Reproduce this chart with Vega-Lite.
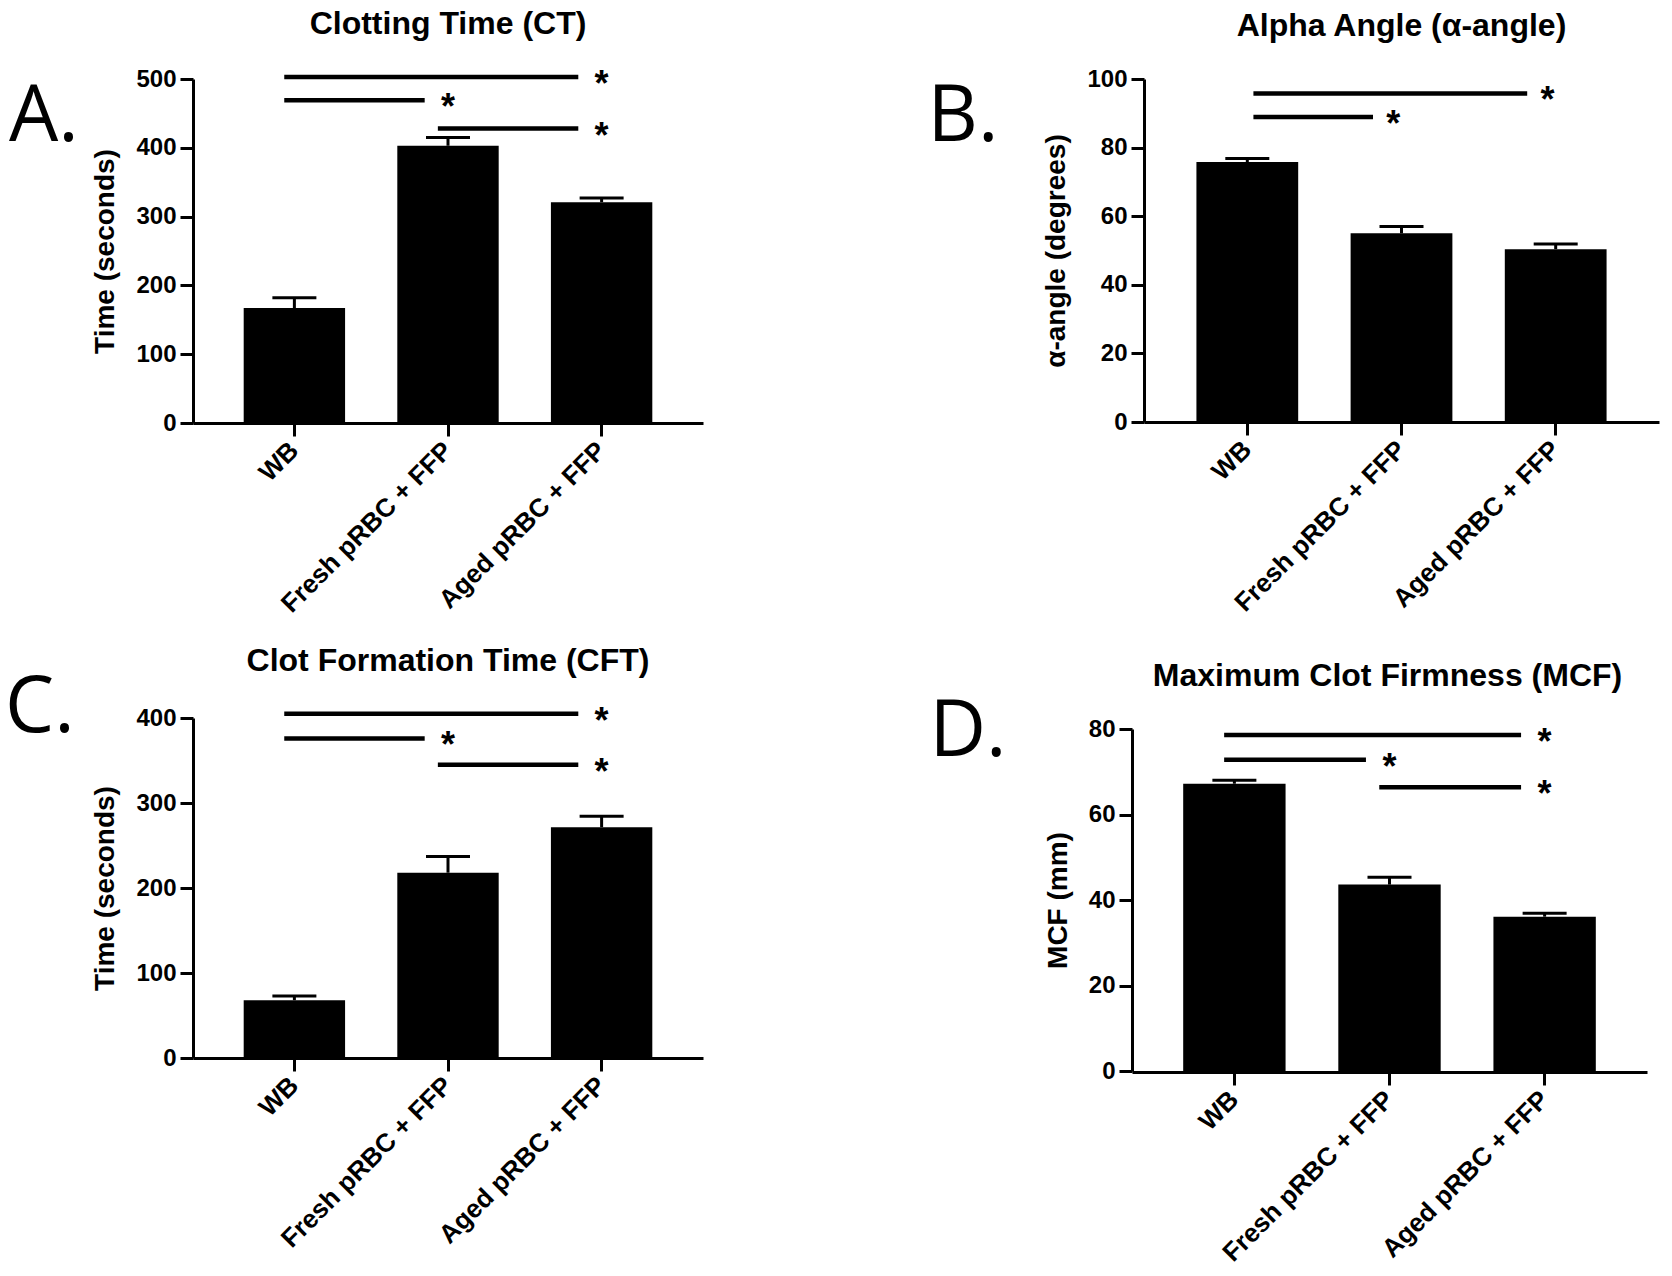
{
  "$schema": "https://vega.github.io/schema/vega-lite/v6.json",
  "autosize": {"type": "none"},
  "padding": {"left": 5, "top": 79, "right": 1667, "bottom": 1197},
  "background": "white",
  "config": {
    "view": {"stroke": null},
    "font": "Liberation Sans",
    "axis": {
      "grid": false,
      "domainColor": "black", "domainWidth": 3,
      "tickColor": "black", "tickWidth": 3, "tickSize": 13,
      "labelFont": "Liberation Sans", "labelFontWeight": "bold", "labelFontSize": 24, "labelColor": "black",
      "titleFont": "Liberation Sans", "titleFontWeight": "bold", "titleFontSize": 28, "titleColor": "black"
    },
    "axisY": {"labelPadding": 4, "titlePadding": 16},
    "axisX": {"labelAngle": -45, "labelAlign": "right", "labelBaseline": "middle", "labelFontSize": 26, "labelPadding": 10, "labelLimit": 500},
    "title": {"font": "Liberation Sans", "fontSize": 32, "fontWeight": "bold", "color": "black", "frame": "group", "baseline": "alphabetic"}
  },
  "datasets": {
    "bars": [
      {"panel": "A", "group": "WB", "value": 167, "err": 182},
      {"panel": "A", "group": "Fresh pRBC + FFP", "value": 403, "err": 415},
      {"panel": "A", "group": "Aged pRBC + FFP", "value": 321, "err": 327},
      {"panel": "B", "group": "WB", "value": 75.8, "err": 76.8},
      {"panel": "B", "group": "Fresh pRBC + FFP", "value": 55, "err": 57},
      {"panel": "B", "group": "Aged pRBC + FFP", "value": 50.4, "err": 51.9},
      {"panel": "C", "group": "WB", "value": 68, "err": 73},
      {"panel": "C", "group": "Fresh pRBC + FFP", "value": 218, "err": 237},
      {"panel": "C", "group": "Aged pRBC + FFP", "value": 271.5, "err": 284.5},
      {"panel": "D", "group": "WB", "value": 67.2, "err": 68},
      {"panel": "D", "group": "Fresh pRBC + FFP", "value": 43.6, "err": 45.3},
      {"panel": "D", "group": "Aged pRBC + FFP", "value": 36.1, "err": 36.9}
    ],
    "sig": [
      {"panel": "A", "from": "WB", "to": "Aged pRBC + FFP", "y": 503, "sym": "*"},
      {"panel": "A", "from": "WB", "to": "Fresh pRBC + FFP", "y": 469, "sym": "*"},
      {"panel": "A", "from": "Fresh pRBC + FFP", "to": "Aged pRBC + FFP", "y": 428, "sym": "*"},
      {"panel": "B", "from": "WB", "to": "Aged pRBC + FFP", "y": 95.8, "sym": "*"},
      {"panel": "B", "from": "WB", "to": "Fresh pRBC + FFP", "y": 88.9, "sym": "*"},
      {"panel": "C", "from": "WB", "to": "Aged pRBC + FFP", "y": 405, "sym": "*"},
      {"panel": "C", "from": "WB", "to": "Fresh pRBC + FFP", "y": 376, "sym": "*"},
      {"panel": "C", "from": "Fresh pRBC + FFP", "to": "Aged pRBC + FFP", "y": 345, "sym": "*"},
      {"panel": "D", "from": "WB", "to": "Aged pRBC + FFP", "y": 78.6, "sym": "*"},
      {"panel": "D", "from": "WB", "to": "Fresh pRBC + FFP", "y": 72.8, "sym": "*"},
      {"panel": "D", "from": "Fresh pRBC + FFP", "to": "Aged pRBC + FFP", "y": 66.4, "sym": "*"}
    ],
    "letters": [
      {"panel": "A", "label": "A."},
      {"panel": "B", "label": "B."},
      {"panel": "C", "label": "C."},
      {"panel": "D", "label": "D."}
    ]
  },
  "columns": 4,
  "bounds": "flush",
  "align": {"row": "all", "column": "none"},
  "spacing": {"row": 297, "column": 180},
  "concat": [
    {
      "width": 8, "height": 10,
      "data": {"name": "letters"},
      "transform": [{"filter": "datum.panel == 'A'"}],
      "mark": {"type": "text", "align": "left", "baseline": "alphabetic", "font": "Open Sans", "fontSize": 78, "color": "black", "dy": 57, "dx": 0},
      "encoding": {"text": {"field": "label", "type": "nominal"}}
    },
    {
      "width": 510, "height": 344,
      "title": {"text": "Clotting Time (CT)", "offset": 26},
      "layer": [
        {
          "data": {"name": "bars"},
          "transform": [{"filter": "datum.panel == 'A'"}],
          "mark": {"type": "bar", "color": "black"},
          "encoding": {
            "x": {"field": "group", "type": "nominal", "scale": {"domain": ["WB", "Fresh pRBC + FFP", "Aged pRBC + FFP"], "paddingInner": 0.34, "paddingOuter": 0.33}, "axis": {"title": null}},
            "y": {"field": "value", "type": "quantitative", "scale": {"domain": [0, 500], "nice": false}, "axis": {"values": [0, 100, 200, 300, 400, 500], "title": "Time (seconds)"}}
          }
        },
        {
          "data": {"name": "bars"},
          "transform": [{"filter": "datum.panel == 'A'"}],
          "mark": {"type": "rule", "color": "black", "strokeWidth": 3},
          "encoding": {
            "x": {"field": "group", "type": "nominal"},
            "y": {"field": "value", "type": "quantitative"},
            "y2": {"field": "err"}
          }
        },
        {
          "data": {"name": "bars"},
          "transform": [{"filter": "datum.panel == 'A'"}],
          "mark": {"type": "tick", "color": "black", "size": 44, "thickness": 3, "opacity": 1},
          "encoding": {
            "x": {"field": "group", "type": "nominal"},
            "y": {"field": "err", "type": "quantitative"}
          }
        },
        {
          "data": {"name": "sig"},
          "transform": [{"filter": "datum.panel == 'A'"}],
          "mark": {"type": "rule", "color": "black", "strokeWidth": 4.5},
          "encoding": {
            "x": {"field": "from", "type": "nominal", "bandPosition": 0.4},
            "x2": {"field": "to", "bandPosition": 0.27},
            "y": {"field": "y", "type": "quantitative"}
          }
        },
        {
          "data": {"name": "sig"},
          "transform": [{"filter": "datum.panel == 'A'"}],
          "mark": {"type": "text", "font": "Liberation Sans", "fontWeight": "bold", "fontSize": 36, "baseline": "alphabetic", "dy": 19, "color": "black"},
          "encoding": {
            "x": {"field": "to", "type": "nominal"},
            "y": {"field": "y", "type": "quantitative"},
            "text": {"field": "sym", "type": "nominal"}
          }
        }
      ]
    },
    {
      "width": 81, "height": 10,
      "data": {"name": "letters"},
      "transform": [{"filter": "datum.panel == 'B'"}],
      "mark": {"type": "text", "align": "left", "baseline": "alphabetic", "font": "Open Sans", "fontSize": 78, "color": "black", "dy": 57, "dx": 4},
      "encoding": {"text": {"field": "label", "type": "nominal"}}
    },
    {
      "width": 515, "height": 343,
      "title": {"text": "Alpha  Angle (α-angle)", "offset": 24},
      "layer": [
        {
          "data": {"name": "bars"},
          "transform": [{"filter": "datum.panel == 'B'"}],
          "mark": {"type": "bar", "color": "black"},
          "encoding": {
            "x": {"field": "group", "type": "nominal", "scale": {"domain": ["WB", "Fresh pRBC + FFP", "Aged pRBC + FFP"], "paddingInner": 0.34, "paddingOuter": 0.34}, "axis": {"title": null}},
            "y": {"field": "value", "type": "quantitative", "scale": {"domain": [0, 100], "nice": false}, "axis": {"values": [0, 20, 40, 60, 80, 100], "title": "α-angle (degrees)"}}
          }
        },
        {
          "data": {"name": "bars"},
          "transform": [{"filter": "datum.panel == 'B'"}],
          "mark": {"type": "rule", "color": "black", "strokeWidth": 3},
          "encoding": {
            "x": {"field": "group", "type": "nominal"},
            "y": {"field": "value", "type": "quantitative"},
            "y2": {"field": "err"}
          }
        },
        {
          "data": {"name": "bars"},
          "transform": [{"filter": "datum.panel == 'B'"}],
          "mark": {"type": "tick", "color": "black", "size": 44, "thickness": 3, "opacity": 1},
          "encoding": {
            "x": {"field": "group", "type": "nominal"},
            "y": {"field": "err", "type": "quantitative"}
          }
        },
        {
          "data": {"name": "sig"},
          "transform": [{"filter": "datum.panel == 'B'"}],
          "mark": {"type": "rule", "color": "black", "strokeWidth": 4.5},
          "encoding": {
            "x": {"field": "from", "type": "nominal", "bandPosition": 0.56},
            "x2": {"field": "to", "bandPosition": 0.22},
            "y": {"field": "y", "type": "quantitative"}
          }
        },
        {
          "data": {"name": "sig"},
          "transform": [{"filter": "datum.panel == 'B'"}],
          "mark": {"type": "text", "font": "Liberation Sans", "fontWeight": "bold", "fontSize": 36, "baseline": "alphabetic", "dy": 19, "color": "black"},
          "encoding": {
            "x": {"field": "to", "type": "nominal", "bandPosition": 0.42},
            "y": {"field": "y", "type": "quantitative"},
            "text": {"field": "sym", "type": "nominal"}
          }
        }
      ]
    },
    {
      "width": 8, "height": 10,
      "data": {"name": "letters"},
      "transform": [{"filter": "datum.panel == 'C'"}],
      "mark": {"type": "text", "align": "left", "baseline": "alphabetic", "font": "Open Sans", "fontSize": 78, "color": "black", "dy": 3, "dx": -4},
      "encoding": {"text": {"field": "label", "type": "nominal"}}
    },
    {
      "width": 510, "height": 334,
      "title": {"text": "Clot Formation Time (CFT)", "offset": 26},
      "layer": [
        {
          "data": {"name": "bars"},
          "transform": [{"filter": "datum.panel == 'C'"}],
          "mark": {"type": "bar", "color": "black"},
          "encoding": {
            "x": {"field": "group", "type": "nominal", "scale": {"domain": ["WB", "Fresh pRBC + FFP", "Aged pRBC + FFP"], "paddingInner": 0.34, "paddingOuter": 0.33}, "axis": {"title": null}},
            "y": {"field": "value", "type": "quantitative", "scale": {"domain": [0, 400], "nice": false, "range": [334, -6]}, "axis": {"values": [0, 100, 200, 300, 400], "title": "Time (seconds)"}}
          }
        },
        {
          "data": {"name": "bars"},
          "transform": [{"filter": "datum.panel == 'C'"}],
          "mark": {"type": "rule", "color": "black", "strokeWidth": 3},
          "encoding": {
            "x": {"field": "group", "type": "nominal"},
            "y": {"field": "value", "type": "quantitative"},
            "y2": {"field": "err"}
          }
        },
        {
          "data": {"name": "bars"},
          "transform": [{"filter": "datum.panel == 'C'"}],
          "mark": {"type": "tick", "color": "black", "size": 44, "thickness": 3, "opacity": 1},
          "encoding": {
            "x": {"field": "group", "type": "nominal"},
            "y": {"field": "err", "type": "quantitative"}
          }
        },
        {
          "data": {"name": "sig"},
          "transform": [{"filter": "datum.panel == 'C'"}],
          "mark": {"type": "rule", "color": "black", "strokeWidth": 4.5},
          "encoding": {
            "x": {"field": "from", "type": "nominal", "bandPosition": 0.4},
            "x2": {"field": "to", "bandPosition": 0.27},
            "y": {"field": "y", "type": "quantitative"}
          }
        },
        {
          "data": {"name": "sig"},
          "transform": [{"filter": "datum.panel == 'C'"}],
          "mark": {"type": "text", "font": "Liberation Sans", "fontWeight": "bold", "fontSize": 36, "baseline": "alphabetic", "dy": 19, "color": "black"},
          "encoding": {
            "x": {"field": "to", "type": "nominal"},
            "y": {"field": "y", "type": "quantitative"},
            "text": {"field": "sym", "type": "nominal"}
          }
        }
      ]
    },
    {
      "width": 69, "height": 10,
      "data": {"name": "letters"},
      "transform": [{"filter": "datum.panel == 'D'"}],
      "mark": {"type": "text", "align": "left", "baseline": "alphabetic", "font": "Open Sans", "fontSize": 78, "color": "black", "dy": 27, "dx": 12},
      "encoding": {"text": {"field": "label", "type": "nominal"}}
    },
    {
      "width": 515, "height": 348,
      "title": {"text": "Maximum Clot Firmness (MCF)", "offset": 24, "dx": -14},
      "layer": [
        {
          "data": {"name": "bars"},
          "transform": [{"filter": "datum.panel == 'D'"}],
          "mark": {"type": "bar", "color": "black"},
          "encoding": {
            "x": {"field": "group", "type": "nominal", "scale": {"domain": ["WB", "Fresh pRBC + FFP", "Aged pRBC + FFP"], "paddingInner": 0.34, "paddingOuter": 0.33, "range": [-12, 503]}, "axis": {"title": null}},
            "y": {"field": "value", "type": "quantitative", "scale": {"domain": [0, 80], "nice": false, "range": [347, 5]}, "axis": {"values": [0, 20, 40, 60, 80], "title": "MCF (mm)", "offset": 12}}
          }
        },
        {
          "data": {"name": "bars"},
          "transform": [{"filter": "datum.panel == 'D'"}],
          "mark": {"type": "rule", "color": "black", "strokeWidth": 3},
          "encoding": {
            "x": {"field": "group", "type": "nominal"},
            "y": {"field": "value", "type": "quantitative"},
            "y2": {"field": "err"}
          }
        },
        {
          "data": {"name": "bars"},
          "transform": [{"filter": "datum.panel == 'D'"}],
          "mark": {"type": "tick", "color": "black", "size": 44, "thickness": 3, "opacity": 1},
          "encoding": {
            "x": {"field": "group", "type": "nominal"},
            "y": {"field": "err", "type": "quantitative"}
          }
        },
        {
          "data": {"name": "sig"},
          "transform": [{"filter": "datum.panel == 'D'"}],
          "mark": {"type": "rule", "color": "black", "strokeWidth": 4.5},
          "encoding": {
            "x": {"field": "from", "type": "nominal", "bandPosition": 0.4},
            "x2": {"field": "to", "bandPosition": 0.27},
            "y": {"field": "y", "type": "quantitative"}
          }
        },
        {
          "data": {"name": "sig"},
          "transform": [{"filter": "datum.panel == 'D'"}],
          "mark": {"type": "text", "font": "Liberation Sans", "fontWeight": "bold", "fontSize": 36, "baseline": "alphabetic", "dy": 19, "color": "black"},
          "encoding": {
            "x": {"field": "to", "type": "nominal"},
            "y": {"field": "y", "type": "quantitative"},
            "text": {"field": "sym", "type": "nominal"}
          }
        }
      ]
    }
  ]
}
